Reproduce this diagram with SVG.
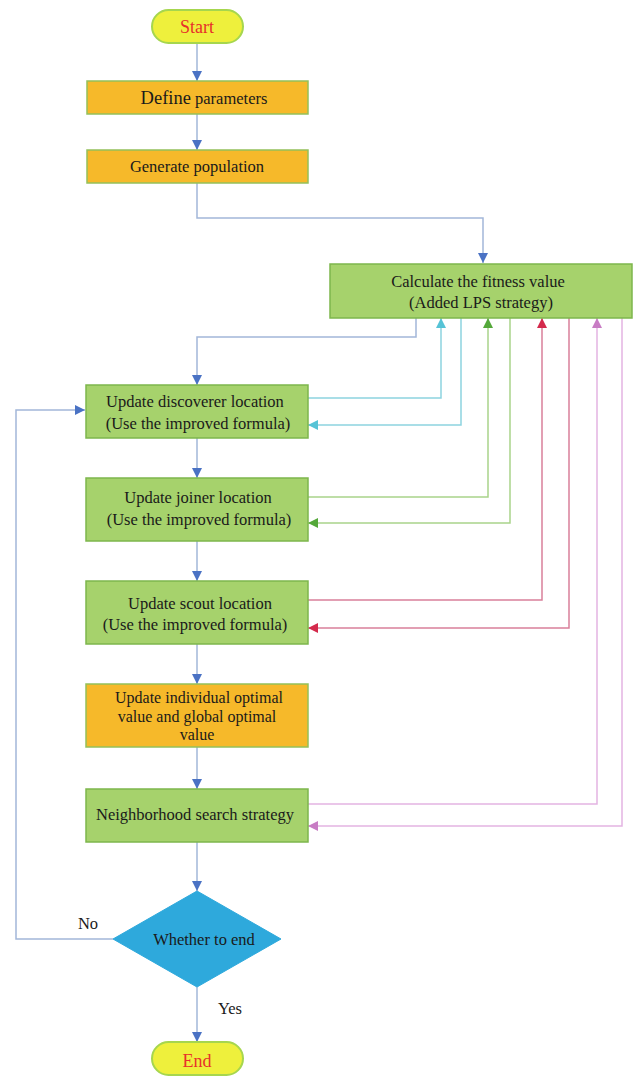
<svg xmlns="http://www.w3.org/2000/svg" width="635" height="1076" viewBox="0 0 635 1076">
<defs>
<style>
text{font-family:"Liberation Serif","Times New Roman",serif;font-size:16.5px;fill:#1a1a1a;text-anchor:middle;dominant-baseline:central}
.term{fill:#eef03c;stroke:#a6d64e;stroke-width:2}
.org{fill:#f6b92a;stroke:#94c05a;stroke-width:1.5}
.grn{fill:#a6d26c;stroke:#7db64c;stroke-width:1.5}
.dia{fill:#2ea9dc;stroke:#2ea9dc}
.red{fill:#e8302a;font-size:18px}
.sm{font-size:16px}
.fl{fill:none;stroke:#a2b7d9;stroke-width:1.5}
.cy{fill:none;stroke:#8dd4e0;stroke-width:1.5}
.gr{fill:none;stroke:#a9d38a;stroke-width:1.5}
.rd{fill:none;stroke:#d9809a;stroke-width:1.5}
.pk{fill:none;stroke:#e3b4e2;stroke-width:1.5}
</style>
<marker id="ab" viewBox="0 0 10 10" refX="10" refY="5" markerWidth="10" markerHeight="10" markerUnits="userSpaceOnUse" orient="auto"><path d="M0,0 L10,5 L0,10 z" fill="#4a72c4"/></marker>
<marker id="ac" viewBox="0 0 10 10" refX="10" refY="5" markerWidth="10" markerHeight="10" markerUnits="userSpaceOnUse" orient="auto"><path d="M0,0 L10,5 L0,10 z" fill="#56c3d6"/></marker>
<marker id="ag" viewBox="0 0 10 10" refX="10" refY="5" markerWidth="10" markerHeight="10" markerUnits="userSpaceOnUse" orient="auto"><path d="M0,0 L10,5 L0,10 z" fill="#54a83a"/></marker>
<marker id="ar" viewBox="0 0 10 10" refX="10" refY="5" markerWidth="10" markerHeight="10" markerUnits="userSpaceOnUse" orient="auto"><path d="M0,0 L10,5 L0,10 z" fill="#d42a4c"/></marker>
<marker id="ap" viewBox="0 0 10 10" refX="10" refY="5" markerWidth="10" markerHeight="10" markerUnits="userSpaceOnUse" orient="auto"><path d="M0,0 L10,5 L0,10 z" fill="#c87cc4"/></marker>
</defs>
<rect width="635" height="1076" fill="#ffffff"/>
<g id="connectors">
<path class="fl" d="M197,43 V81" marker-end="url(#ab)"/>
<path class="fl" d="M197,114 V150" marker-end="url(#ab)"/>
<path class="fl" d="M197,183 V218 H483 V263" marker-end="url(#ab)"/>
<path class="fl" d="M416,318 V337 H197 V385" marker-end="url(#ab)"/>
<path class="fl" d="M197,438 V478" marker-end="url(#ab)"/>
<path class="fl" d="M197,541 V581" marker-end="url(#ab)"/>
<path class="fl" d="M197,644 V684" marker-end="url(#ab)"/>
<path class="fl" d="M197,747 V789" marker-end="url(#ab)"/>
<path class="fl" d="M197,842 V891" marker-end="url(#ab)"/>
<path class="fl" d="M197,987 V1042" marker-end="url(#ab)"/>
<path class="fl" d="M113,939 H16 V410 H85" marker-end="url(#ab)"/>
<path class="cy" d="M308,398 H441 V318" marker-end="url(#ac)"/>
<path class="cy" d="M461,318 V425 H308" marker-end="url(#ac)"/>
<path class="gr" d="M308,497 H488 V318" marker-end="url(#ag)"/>
<path class="gr" d="M510,318 V523 H308" marker-end="url(#ag)"/>
<path class="rd" d="M308,600 H542 V318" marker-end="url(#ar)"/>
<path class="rd" d="M569,318 V628 H308" marker-end="url(#ar)"/>
<path class="pk" d="M308,804 H597 V318" marker-end="url(#ap)"/>
<path class="pk" d="M622,318 V826 H308" marker-end="url(#ap)"/>
<text x="88" y="923">No</text>
<text x="230" y="1008">Yes</text>
</g>
<g id="start"><rect class="term" x="152" y="10" width="91" height="33" rx="16.5"/><text class="red" x="197" y="27">Start</text></g>
<g id="define"><rect class="org" x="87" y="81" width="221" height="33"/><text x="204" y="98"><tspan font-size="18.5px">Define</tspan> parameters</text></g>
<g id="generate"><rect class="org" x="87" y="150" width="221" height="33"/><text x="197" y="166">Generate population</text></g>
<g id="calc"><rect class="grn" x="330" y="264" width="302" height="54"/><text x="478" y="281">Calculate the fitness value</text><text x="481" y="302">(Added LPS strategy)</text></g>
<g id="discoverer"><rect class="grn" x="86" y="385" width="222" height="53"/><text x="195" y="401">Update discoverer location</text><text x="198" y="423">(Use the improved formula)</text></g>
<g id="joiner"><rect class="grn" x="86" y="478" width="222" height="63"/><text x="198" y="497">Update joiner location</text><text x="199" y="519">(Use the improved formula)</text></g>
<g id="scout"><rect class="grn" x="86" y="581" width="222" height="63"/><text x="200" y="603">Update scout location</text><text x="195" y="624">(Use the improved formula)</text></g>
<g id="optimal"><rect class="org" x="86" y="684" width="222" height="63"/><text class="sm" x="199" y="697.5">Update individual optimal</text><text class="sm" x="197" y="716">value and global optimal</text><text class="sm" x="197" y="734.5">value</text></g>
<g id="neighborhood"><rect class="grn" x="86" y="789" width="222" height="53"/><text x="195" y="814">Neighborhood search strategy</text></g>
<g id="decision"><path class="dia" d="M197,891 L281,939 L197,987 L113,939 z"/><text x="204" y="939">Whether to end</text></g>
<g id="end"><rect class="term" x="152" y="1042" width="91" height="33" rx="16.5"/><text class="red" x="197" y="1061">End</text></g>
</svg>
